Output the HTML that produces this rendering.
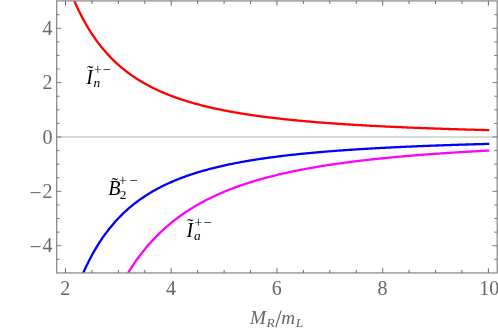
<!DOCTYPE html>
<html><head><meta charset="utf-8"><title>Plot</title>
<style>
html,body{margin:0;padding:0;background:#fff;}
body{width:498px;height:330px;overflow:hidden;font-family:"Liberation Serif",serif;}
svg{display:block;}
</style></head><body>
<svg width="498" height="330" viewBox="0 0 498 330" style="will-change:transform">
<rect x="0" y="0" width="498" height="330" fill="#fff"/>
<line x1="56.65" y1="137.0" x2="497.2" y2="137.0" stroke="#b4b4b4" stroke-width="1.1"/>
<clipPath id="c"><rect x="56.65" y="0.9" width="440.55" height="272.05"/></clipPath>
<g clip-path="url(#c)" fill="none" stroke-width="2.3" stroke-linejoin="round">
<path d="M65.50,-22.30 L66.56,-19.22 L67.62,-16.23 L68.69,-13.33 L69.75,-10.51 L70.81,-7.77 L71.87,-5.10 L72.93,-2.51 L74.00,0.01 L75.06,2.47 L76.12,4.85 L77.18,7.18 L78.25,9.44 L79.31,11.64 L80.37,13.79 L81.43,15.88 L82.49,17.92 L83.56,19.91 L84.62,21.84 L85.68,23.73 L86.74,25.57 L87.80,27.37 L88.87,29.12 L89.93,30.84 L90.99,32.51 L92.05,34.14 L93.11,35.73 L94.18,37.29 L95.24,38.81 L96.30,40.30 L97.36,41.75 L98.43,43.17 L99.49,44.55 L100.55,45.91 L101.61,47.24 L102.67,48.54 L103.74,49.81 L104.80,51.05 L105.86,52.26 L106.92,53.45 L107.98,54.62 L109.05,55.76 L110.11,56.88 L111.17,57.97 L112.23,59.04 L113.29,60.09 L114.36,61.12 L115.42,62.13 L116.48,63.11 L117.54,64.08 L118.61,65.03 L119.67,65.96 L120.73,66.87 L121.79,67.77 L122.85,68.65 L123.92,69.51 L124.98,70.35 L126.04,71.18 L127.10,71.99 L128.16,72.79 L129.23,73.57 L130.29,74.34 L131.35,75.10 L132.41,75.84 L133.47,76.57 L134.54,77.28 L135.60,77.98 L136.66,78.67 L137.72,79.35 L138.79,80.02 L139.85,80.67 L140.91,81.32 L141.97,81.95 L143.03,82.57 L144.10,83.18 L145.16,83.78 L146.22,84.37 L147.28,84.95 L148.34,85.52 L149.41,86.08 L150.47,86.63 L151.53,87.18 L152.59,87.71 L153.65,88.24 L154.72,88.76 L155.78,89.26 L156.84,89.77 L157.90,90.26 L158.96,90.74 L160.03,91.22 L161.09,91.69 L162.15,92.15 L163.21,92.61 L164.28,93.06 L165.34,93.50 L166.40,93.94 L167.46,94.37 L168.52,94.79 L169.59,95.20 L170.65,95.61 L171.71,96.02 L172.77,96.42 L173.83,96.81 L174.90,97.20 L175.96,97.58 L177.02,97.95 L178.08,98.32 L179.14,98.69 L180.21,99.05 L181.27,99.40 L182.33,99.75 L183.39,100.09 L184.46,100.43 L185.52,100.77 L186.58,101.10 L187.64,101.43 L188.70,101.75 L189.77,102.06 L190.83,102.38 L191.89,102.69 L192.95,102.99 L194.01,103.29 L195.08,103.59 L196.14,103.88 L197.20,104.17 L198.26,104.45 L199.32,104.73 L200.39,105.01 L201.45,105.29 L202.51,105.56 L203.57,105.82 L204.64,106.09 L205.70,106.35 L206.76,106.60 L207.82,106.86 L208.88,107.11 L209.95,107.35 L211.01,107.60 L212.07,107.84 L213.13,108.08 L214.19,108.31 L215.26,108.55 L216.32,108.78 L217.38,109.00 L218.44,109.23 L219.50,109.45 L220.57,109.67 L221.63,109.88 L222.69,110.10 L223.75,110.31 L224.82,110.51 L225.88,110.72 L226.94,110.92 L228.00,111.13 L229.06,111.32 L230.13,111.52 L231.19,111.71 L232.25,111.91 L233.31,112.10 L234.37,112.28 L235.44,112.47 L236.50,112.65 L237.56,112.84 L238.62,113.01 L239.68,113.19 L240.75,113.37 L241.81,113.54 L242.87,113.71 L243.93,113.88 L245.00,114.05 L246.06,114.22 L247.12,114.38 L248.18,114.54 L249.24,114.70 L250.31,114.86 L251.37,115.02 L252.43,115.17 L253.49,115.33 L254.55,115.48 L255.62,115.63 L256.68,115.78 L257.74,115.93 L258.80,116.07 L259.86,116.22 L260.93,116.36 L261.99,116.50 L263.05,116.64 L264.11,116.78 L265.18,116.92 L266.24,117.05 L267.30,117.19 L268.36,117.32 L269.42,117.45 L270.49,117.58 L271.55,117.71 L272.61,117.84 L273.67,117.96 L274.73,118.09 L275.80,118.21 L276.86,118.34 L277.92,118.46 L278.98,118.58 L280.04,118.70 L281.11,118.81 L282.17,118.93 L283.23,119.05 L284.29,119.16 L285.36,119.28 L286.42,119.39 L287.48,119.50 L288.54,119.61 L289.60,119.72 L290.67,119.83 L291.73,119.93 L292.79,120.04 L293.85,120.14 L294.91,120.25 L295.98,120.35 L297.04,120.45 L298.10,120.56 L299.16,120.66 L300.22,120.75 L301.29,120.85 L302.35,120.95 L303.41,121.05 L304.47,121.14 L305.54,121.24 L306.60,121.33 L307.66,121.43 L308.72,121.52 L309.78,121.61 L310.85,121.70 L311.91,121.79 L312.97,121.88 L314.03,121.97 L315.09,122.06 L316.16,122.14 L317.22,122.23 L318.28,122.31 L319.34,122.40 L320.40,122.48 L321.47,122.57 L322.53,122.65 L323.59,122.73 L324.65,122.81 L325.71,122.89 L326.78,122.97 L327.84,123.05 L328.90,123.13 L329.96,123.21 L331.03,123.28 L332.09,123.36 L333.15,123.43 L334.21,123.51 L335.27,123.58 L336.34,123.66 L337.40,123.73 L338.46,123.80 L339.52,123.87 L340.58,123.95 L341.65,124.02 L342.71,124.09 L343.77,124.16 L344.83,124.23 L345.89,124.29 L346.96,124.36 L348.02,124.43 L349.08,124.50 L350.14,124.56 L351.21,124.63 L352.27,124.69 L353.33,124.76 L354.39,124.82 L355.45,124.89 L356.52,124.95 L357.58,125.01 L358.64,125.07 L359.70,125.14 L360.76,125.20 L361.83,125.26 L362.89,125.32 L363.95,125.38 L365.01,125.44 L366.07,125.50 L367.14,125.56 L368.20,125.61 L369.26,125.67 L370.32,125.73 L371.39,125.79 L372.45,125.84 L373.51,125.90 L374.57,125.95 L375.63,126.01 L376.70,126.06 L377.76,126.12 L378.82,126.17 L379.88,126.22 L380.94,126.28 L382.01,126.33 L383.07,126.38 L384.13,126.43 L385.19,126.48 L386.25,126.54 L387.32,126.59 L388.38,126.64 L389.44,126.69 L390.50,126.74 L391.57,126.79 L392.63,126.83 L393.69,126.88 L394.75,126.93 L395.81,126.98 L396.88,127.03 L397.94,127.07 L399.00,127.12 L400.06,127.17 L401.12,127.21 L402.19,127.26 L403.25,127.30 L404.31,127.35 L405.37,127.39 L406.43,127.44 L407.50,127.48 L408.56,127.53 L409.62,127.57 L410.68,127.61 L411.75,127.66 L412.81,127.70 L413.87,127.74 L414.93,127.78 L415.99,127.83 L417.06,127.87 L418.12,127.91 L419.18,127.95 L420.24,127.99 L421.30,128.03 L422.37,128.07 L423.43,128.11 L424.49,128.15 L425.55,128.19 L426.61,128.23 L427.68,128.27 L428.74,128.31 L429.80,128.34 L430.86,128.38 L431.93,128.42 L432.99,128.46 L434.05,128.50 L435.11,128.53 L436.17,128.57 L437.24,128.61 L438.30,128.64 L439.36,128.68 L440.42,128.71 L441.48,128.75 L442.55,128.79 L443.61,128.82 L444.67,128.86 L445.73,128.89 L446.79,128.92 L447.86,128.96 L448.92,128.99 L449.98,129.03 L451.04,129.06 L452.11,129.09 L453.17,129.13 L454.23,129.16 L455.29,129.19 L456.35,129.23 L457.42,129.26 L458.48,129.29 L459.54,129.32 L460.60,129.35 L461.66,129.39 L462.73,129.42 L463.79,129.45 L464.85,129.48 L465.91,129.51 L466.97,129.54 L468.04,129.57 L469.10,129.60 L470.16,129.63 L471.22,129.66 L472.28,129.69 L473.35,129.72 L474.41,129.75 L475.47,129.78 L476.53,129.81 L477.60,129.84 L478.66,129.86 L479.72,129.89 L480.78,129.92 L481.84,129.95 L482.91,129.98 L483.97,130.00 L485.03,130.03 L486.09,130.06 L487.15,130.09 L488.22,130.11 L489.28,130.14" stroke="#ff0000"/>
<path d="M65.50,323.80 L66.56,320.01 L67.62,316.33 L68.69,312.76 L69.75,309.30 L70.81,305.94 L71.87,302.67 L72.93,299.50 L74.00,296.41 L75.06,293.41 L76.12,290.50 L77.18,287.66 L78.25,284.91 L79.31,282.22 L80.37,279.61 L81.43,277.07 L82.49,274.60 L83.56,272.18 L84.62,269.84 L85.68,267.55 L86.74,265.32 L87.80,263.14 L88.87,261.02 L89.93,258.96 L90.99,256.94 L92.05,254.97 L93.11,253.06 L94.18,251.18 L95.24,249.35 L96.30,247.57 L97.36,245.82 L98.43,244.12 L99.49,242.46 L100.55,240.83 L101.61,239.24 L102.67,237.69 L103.74,236.17 L104.80,234.69 L105.86,233.24 L106.92,231.82 L107.98,230.43 L109.05,229.07 L110.11,227.74 L111.17,226.44 L112.23,225.17 L113.29,223.92 L114.36,222.70 L115.42,221.51 L116.48,220.34 L117.54,219.19 L118.61,218.07 L119.67,216.97 L120.73,215.89 L121.79,214.83 L122.85,213.79 L123.92,212.78 L124.98,211.78 L126.04,210.81 L127.10,209.85 L128.16,208.91 L129.23,207.99 L130.29,207.08 L131.35,206.20 L132.41,205.33 L133.47,204.47 L134.54,203.63 L135.60,202.81 L136.66,202.00 L137.72,201.21 L138.79,200.43 L139.85,199.67 L140.91,198.91 L141.97,198.18 L143.03,197.45 L144.10,196.74 L145.16,196.04 L146.22,195.35 L147.28,194.68 L148.34,194.01 L149.41,193.36 L150.47,192.72 L151.53,192.08 L152.59,191.46 L153.65,190.85 L154.72,190.25 L155.78,189.66 L156.84,189.08 L157.90,188.51 L158.96,187.95 L160.03,187.40 L161.09,186.85 L162.15,186.32 L163.21,185.79 L164.28,185.27 L165.34,184.76 L166.40,184.26 L167.46,183.77 L168.52,183.28 L169.59,182.80 L170.65,182.33 L171.71,181.86 L172.77,181.41 L173.83,180.96 L174.90,180.51 L175.96,180.07 L177.02,179.64 L178.08,179.22 L179.14,178.80 L180.21,178.39 L181.27,177.98 L182.33,177.58 L183.39,177.19 L184.46,176.80 L185.52,176.42 L186.58,176.04 L187.64,175.67 L188.70,175.30 L189.77,174.94 L190.83,174.58 L191.89,174.23 L192.95,173.88 L194.01,173.54 L195.08,173.20 L196.14,172.87 L197.20,172.54 L198.26,172.22 L199.32,171.90 L200.39,171.58 L201.45,171.27 L202.51,170.96 L203.57,170.66 L204.64,170.36 L205.70,170.07 L206.76,169.78 L207.82,169.49 L208.88,169.21 L209.95,168.93 L211.01,168.65 L212.07,168.38 L213.13,168.11 L214.19,167.84 L215.26,167.58 L216.32,167.32 L217.38,167.07 L218.44,166.81 L219.50,166.56 L220.57,166.32 L221.63,166.07 L222.69,165.83 L223.75,165.60 L224.82,165.36 L225.88,165.13 L226.94,164.90 L228.00,164.67 L229.06,164.45 L230.13,164.23 L231.19,164.01 L232.25,163.80 L233.31,163.58 L234.37,163.37 L235.44,163.17 L236.50,162.96 L237.56,162.76 L238.62,162.56 L239.68,162.36 L240.75,162.16 L241.81,161.97 L242.87,161.78 L243.93,161.59 L245.00,161.40 L246.06,161.21 L247.12,161.03 L248.18,160.85 L249.24,160.67 L250.31,160.49 L251.37,160.32 L252.43,160.14 L253.49,159.97 L254.55,159.80 L255.62,159.64 L256.68,159.47 L257.74,159.31 L258.80,159.14 L259.86,158.98 L260.93,158.82 L261.99,158.67 L263.05,158.51 L264.11,158.36 L265.18,158.21 L266.24,158.06 L267.30,157.91 L268.36,157.76 L269.42,157.61 L270.49,157.47 L271.55,157.33 L272.61,157.19 L273.67,157.05 L274.73,156.91 L275.80,156.77 L276.86,156.63 L277.92,156.50 L278.98,156.37 L280.04,156.24 L281.11,156.11 L282.17,155.98 L283.23,155.85 L284.29,155.72 L285.36,155.60 L286.42,155.47 L287.48,155.35 L288.54,155.23 L289.60,155.11 L290.67,154.99 L291.73,154.87 L292.79,154.76 L293.85,154.64 L294.91,154.53 L295.98,154.41 L297.04,154.30 L298.10,154.19 L299.16,154.08 L300.22,153.97 L301.29,153.86 L302.35,153.76 L303.41,153.65 L304.47,153.54 L305.54,153.44 L306.60,153.34 L307.66,153.24 L308.72,153.13 L309.78,153.03 L310.85,152.93 L311.91,152.84 L312.97,152.74 L314.03,152.64 L315.09,152.55 L316.16,152.45 L317.22,152.36 L318.28,152.26 L319.34,152.17 L320.40,152.08 L321.47,151.99 L322.53,151.90 L323.59,151.81 L324.65,151.72 L325.71,151.63 L326.78,151.55 L327.84,151.46 L328.90,151.38 L329.96,151.29 L331.03,151.21 L332.09,151.13 L333.15,151.04 L334.21,150.96 L335.27,150.88 L336.34,150.80 L337.40,150.72 L338.46,150.64 L339.52,150.56 L340.58,150.49 L341.65,150.41 L342.71,150.33 L343.77,150.26 L344.83,150.18 L345.89,150.11 L346.96,150.04 L348.02,149.96 L349.08,149.89 L350.14,149.82 L351.21,149.75 L352.27,149.68 L353.33,149.61 L354.39,149.54 L355.45,149.47 L356.52,149.40 L357.58,149.33 L358.64,149.26 L359.70,149.20 L360.76,149.13 L361.83,149.07 L362.89,149.00 L363.95,148.94 L365.01,148.87 L366.07,148.81 L367.14,148.75 L368.20,148.68 L369.26,148.62 L370.32,148.56 L371.39,148.50 L372.45,148.44 L373.51,148.38 L374.57,148.32 L375.63,148.26 L376.70,148.20 L377.76,148.14 L378.82,148.08 L379.88,148.03 L380.94,147.97 L382.01,147.91 L383.07,147.86 L384.13,147.80 L385.19,147.75 L386.25,147.69 L387.32,147.64 L388.38,147.58 L389.44,147.53 L390.50,147.48 L391.57,147.42 L392.63,147.37 L393.69,147.32 L394.75,147.27 L395.81,147.22 L396.88,147.16 L397.94,147.11 L399.00,147.06 L400.06,147.01 L401.12,146.97 L402.19,146.92 L403.25,146.87 L404.31,146.82 L405.37,146.77 L406.43,146.72 L407.50,146.68 L408.56,146.63 L409.62,146.58 L410.68,146.54 L411.75,146.49 L412.81,146.45 L413.87,146.40 L414.93,146.36 L415.99,146.31 L417.06,146.27 L418.12,146.22 L419.18,146.18 L420.24,146.14 L421.30,146.09 L422.37,146.05 L423.43,146.01 L424.49,145.96 L425.55,145.92 L426.61,145.88 L427.68,145.84 L428.74,145.80 L429.80,145.76 L430.86,145.72 L431.93,145.68 L432.99,145.64 L434.05,145.60 L435.11,145.56 L436.17,145.52 L437.24,145.48 L438.30,145.44 L439.36,145.40 L440.42,145.37 L441.48,145.33 L442.55,145.29 L443.61,145.25 L444.67,145.22 L445.73,145.18 L446.79,145.14 L447.86,145.11 L448.92,145.07 L449.98,145.03 L451.04,145.00 L452.11,144.96 L453.17,144.93 L454.23,144.89 L455.29,144.86 L456.35,144.82 L457.42,144.79 L458.48,144.76 L459.54,144.72 L460.60,144.69 L461.66,144.66 L462.73,144.62 L463.79,144.59 L464.85,144.56 L465.91,144.52 L466.97,144.49 L468.04,144.46 L469.10,144.43 L470.16,144.40 L471.22,144.37 L472.28,144.33 L473.35,144.30 L474.41,144.27 L475.47,144.24 L476.53,144.21 L477.60,144.18 L478.66,144.15 L479.72,144.12 L480.78,144.09 L481.84,144.06 L482.91,144.03 L483.97,144.00 L485.03,143.97 L486.09,143.94 L487.15,143.92 L488.22,143.89 L489.28,143.86" stroke="#0000ff"/>
<path d="M65.50,483.26 L66.56,476.36 L67.62,469.67 L68.69,463.18 L69.75,456.87 L70.81,450.75 L71.87,444.79 L72.93,439.01 L74.00,433.38 L75.06,427.92 L76.12,422.60 L77.18,417.42 L78.25,412.39 L79.31,407.49 L80.37,402.72 L81.43,398.07 L82.49,393.54 L83.56,389.13 L84.62,384.84 L85.68,380.65 L86.74,376.56 L87.80,372.58 L88.87,368.70 L89.93,364.91 L90.99,361.21 L92.05,357.61 L93.11,354.09 L94.18,350.65 L95.24,347.29 L96.30,344.01 L97.36,340.81 L98.43,337.68 L99.49,334.62 L100.55,331.63 L101.61,328.71 L102.67,325.86 L103.74,323.06 L104.80,320.33 L105.86,317.66 L106.92,315.05 L107.98,312.49 L109.05,309.99 L110.11,307.54 L111.17,305.14 L112.23,302.79 L113.29,300.49 L114.36,298.24 L115.42,296.03 L116.48,293.87 L117.54,291.75 L118.61,289.68 L119.67,287.64 L120.73,285.65 L121.79,283.70 L122.85,281.78 L123.92,279.90 L124.98,278.06 L126.04,276.25 L127.10,274.48 L128.16,272.74 L129.23,271.03 L130.29,269.36 L131.35,267.72 L132.41,266.10 L133.47,264.52 L134.54,262.97 L135.60,261.44 L136.66,259.94 L137.72,258.47 L138.79,257.02 L139.85,255.60 L140.91,254.21 L141.97,252.84 L143.03,251.49 L144.10,250.17 L145.16,248.87 L146.22,247.59 L147.28,246.33 L148.34,245.10 L149.41,243.88 L150.47,242.69 L151.53,241.51 L152.59,240.36 L153.65,239.22 L154.72,238.10 L155.78,237.00 L156.84,235.92 L157.90,234.86 L158.96,233.81 L160.03,232.78 L161.09,231.77 L162.15,230.77 L163.21,229.79 L164.28,228.82 L165.34,227.87 L166.40,226.93 L167.46,226.01 L168.52,225.10 L169.59,224.20 L170.65,223.32 L171.71,222.45 L172.77,221.60 L173.83,220.76 L174.90,219.93 L175.96,219.11 L177.02,218.30 L178.08,217.51 L179.14,216.73 L180.21,215.96 L181.27,215.20 L182.33,214.45 L183.39,213.71 L184.46,212.98 L185.52,212.26 L186.58,211.56 L187.64,210.86 L188.70,210.17 L189.77,209.49 L190.83,208.82 L191.89,208.16 L192.95,207.51 L194.01,206.87 L195.08,206.24 L196.14,205.61 L197.20,205.00 L198.26,204.39 L199.32,203.79 L200.39,203.20 L201.45,202.61 L202.51,202.04 L203.57,201.47 L204.64,200.91 L205.70,200.35 L206.76,199.81 L207.82,199.27 L208.88,198.73 L209.95,198.21 L211.01,197.69 L212.07,197.18 L213.13,196.67 L214.19,196.17 L215.26,195.68 L216.32,195.19 L217.38,194.71 L218.44,194.23 L219.50,193.76 L220.57,193.30 L221.63,192.84 L222.69,192.38 L223.75,191.94 L224.82,191.50 L225.88,191.06 L226.94,190.63 L228.00,190.20 L229.06,189.78 L230.13,189.36 L231.19,188.95 L232.25,188.54 L233.31,188.14 L234.37,187.75 L235.44,187.35 L236.50,186.97 L237.56,186.58 L238.62,186.20 L239.68,185.83 L240.75,185.46 L241.81,185.09 L242.87,184.73 L243.93,184.37 L245.00,184.02 L246.06,183.67 L247.12,183.32 L248.18,182.98 L249.24,182.64 L250.31,182.30 L251.37,181.97 L252.43,181.64 L253.49,181.32 L254.55,181.00 L255.62,180.68 L256.68,180.37 L257.74,180.06 L258.80,179.75 L259.86,179.45 L260.93,179.15 L261.99,178.85 L263.05,178.55 L264.11,178.26 L265.18,177.97 L266.24,177.69 L267.30,177.41 L268.36,177.13 L269.42,176.85 L270.49,176.58 L271.55,176.31 L272.61,176.04 L273.67,175.77 L274.73,175.51 L275.80,175.25 L276.86,174.99 L277.92,174.74 L278.98,174.49 L280.04,174.24 L281.11,173.99 L282.17,173.74 L283.23,173.50 L284.29,173.26 L285.36,173.02 L286.42,172.79 L287.48,172.56 L288.54,172.33 L289.60,172.10 L290.67,171.87 L291.73,171.65 L292.79,171.42 L293.85,171.20 L294.91,170.99 L295.98,170.77 L297.04,170.56 L298.10,170.35 L299.16,170.14 L300.22,169.93 L301.29,169.72 L302.35,169.52 L303.41,169.32 L304.47,169.12 L305.54,168.92 L306.60,168.72 L307.66,168.53 L308.72,168.34 L309.78,168.14 L310.85,167.96 L311.91,167.77 L312.97,167.58 L314.03,167.40 L315.09,167.22 L316.16,167.03 L317.22,166.86 L318.28,166.68 L319.34,166.50 L320.40,166.33 L321.47,166.15 L322.53,165.98 L323.59,165.81 L324.65,165.64 L325.71,165.48 L326.78,165.31 L327.84,165.15 L328.90,164.98 L329.96,164.82 L331.03,164.66 L332.09,164.50 L333.15,164.35 L334.21,164.19 L335.27,164.04 L336.34,163.88 L337.40,163.73 L338.46,163.58 L339.52,163.43 L340.58,163.28 L341.65,163.14 L342.71,162.99 L343.77,162.85 L344.83,162.70 L345.89,162.56 L346.96,162.42 L348.02,162.28 L349.08,162.14 L350.14,162.00 L351.21,161.87 L352.27,161.73 L353.33,161.60 L354.39,161.47 L355.45,161.33 L356.52,161.20 L357.58,161.07 L358.64,160.94 L359.70,160.82 L360.76,160.69 L361.83,160.56 L362.89,160.44 L363.95,160.32 L365.01,160.19 L366.07,160.07 L367.14,159.95 L368.20,159.83 L369.26,159.71 L370.32,159.59 L371.39,159.48 L372.45,159.36 L373.51,159.24 L374.57,159.13 L375.63,159.02 L376.70,158.90 L377.76,158.79 L378.82,158.68 L379.88,158.57 L380.94,158.46 L382.01,158.35 L383.07,158.25 L384.13,158.14 L385.19,158.03 L386.25,157.93 L387.32,157.82 L388.38,157.72 L389.44,157.62 L390.50,157.51 L391.57,157.41 L392.63,157.31 L393.69,157.21 L394.75,157.11 L395.81,157.01 L396.88,156.92 L397.94,156.82 L399.00,156.72 L400.06,156.63 L401.12,156.53 L402.19,156.44 L403.25,156.35 L404.31,156.25 L405.37,156.16 L406.43,156.07 L407.50,155.98 L408.56,155.89 L409.62,155.80 L410.68,155.71 L411.75,155.62 L412.81,155.53 L413.87,155.45 L414.93,155.36 L415.99,155.27 L417.06,155.19 L418.12,155.10 L419.18,155.02 L420.24,154.94 L421.30,154.85 L422.37,154.77 L423.43,154.69 L424.49,154.61 L425.55,154.53 L426.61,154.45 L427.68,154.37 L428.74,154.29 L429.80,154.21 L430.86,154.13 L431.93,154.05 L432.99,153.98 L434.05,153.90 L435.11,153.82 L436.17,153.75 L437.24,153.67 L438.30,153.60 L439.36,153.53 L440.42,153.45 L441.48,153.38 L442.55,153.31 L443.61,153.24 L444.67,153.16 L445.73,153.09 L446.79,153.02 L447.86,152.95 L448.92,152.88 L449.98,152.81 L451.04,152.75 L452.11,152.68 L453.17,152.61 L454.23,152.54 L455.29,152.47 L456.35,152.41 L457.42,152.34 L458.48,152.28 L459.54,152.21 L460.60,152.15 L461.66,152.08 L462.73,152.02 L463.79,151.95 L464.85,151.89 L465.91,151.83 L466.97,151.77 L468.04,151.70 L469.10,151.64 L470.16,151.58 L471.22,151.52 L472.28,151.46 L473.35,151.40 L474.41,151.34 L475.47,151.28 L476.53,151.22 L477.60,151.16 L478.66,151.10 L479.72,151.05 L480.78,150.99 L481.84,150.93 L482.91,150.88 L483.97,150.82 L485.03,150.76 L486.09,150.71 L487.15,150.65 L488.22,150.60 L489.28,150.54" stroke="#ff00ff"/>
</g>
<rect x="56.65" y="0.9" width="440.55" height="272.05" fill="none" stroke="#8e8e8e" stroke-width="1.3"/>
<path d="M65.50,272.95v-4.7 M65.50,0.9v4.7 M91.93,272.95v-3.0 M91.93,0.9v3.0 M118.36,272.95v-3.0 M118.36,0.9v3.0 M144.79,272.95v-3.0 M144.79,0.9v3.0 M171.22,272.95v-4.7 M171.22,0.9v4.7 M197.65,272.95v-3.0 M197.65,0.9v3.0 M224.08,272.95v-3.0 M224.08,0.9v3.0 M250.51,272.95v-3.0 M250.51,0.9v3.0 M276.94,272.95v-4.7 M276.94,0.9v4.7 M303.37,272.95v-3.0 M303.37,0.9v3.0 M329.80,272.95v-3.0 M329.80,0.9v3.0 M356.23,272.95v-3.0 M356.23,0.9v3.0 M382.66,272.95v-4.7 M382.66,0.9v4.7 M409.09,272.95v-3.0 M409.09,0.9v3.0 M435.52,272.95v-3.0 M435.52,0.9v3.0 M461.95,272.95v-3.0 M461.95,0.9v3.0 M488.38,272.95v-4.7 M488.38,0.9v4.7" stroke="#666" stroke-width="1" fill="none"/>
<path d="M56.65,259.31h3.0 M497.2,259.31h-3.0 M56.65,245.72h4.7 M497.2,245.72h-4.7 M56.65,232.13h3.0 M497.2,232.13h-3.0 M56.65,218.54h3.0 M497.2,218.54h-3.0 M56.65,204.95h3.0 M497.2,204.95h-3.0 M56.65,191.36h4.7 M497.2,191.36h-4.7 M56.65,177.77h3.0 M497.2,177.77h-3.0 M56.65,164.18h3.0 M497.2,164.18h-3.0 M56.65,150.59h3.0 M497.2,150.59h-3.0 M56.65,137.00h4.7 M497.2,137.00h-4.7 M56.65,123.41h3.0 M497.2,123.41h-3.0 M56.65,109.82h3.0 M497.2,109.82h-3.0 M56.65,96.23h3.0 M497.2,96.23h-3.0 M56.65,82.64h4.7 M497.2,82.64h-4.7 M56.65,69.05h3.0 M497.2,69.05h-3.0 M56.65,55.46h3.0 M497.2,55.46h-3.0 M56.65,41.87h3.0 M497.2,41.87h-3.0 M56.65,28.28h4.7 M497.2,28.28h-4.7 M56.65,14.69h3.0 M497.2,14.69h-3.0" stroke="#666" stroke-width="0.85" fill="none"/>
<g font-family="Liberation Serif, serif" font-size="20" fill="#666">
<text x="65.30" y="294.8" text-anchor="middle">2</text>
<text x="171.02" y="294.8" text-anchor="middle">4</text>
<text x="276.74" y="294.8" text-anchor="middle">6</text>
<text x="382.46" y="294.8" text-anchor="middle">8</text>
<text x="489.18" y="294.8" text-anchor="middle">10</text>
<text x="52.6" y="34.88" text-anchor="end">4</text>
<text x="52.6" y="89.24" text-anchor="end">2</text>
<text x="52.6" y="143.60" text-anchor="end">0</text>
<text x="52.6" y="197.96" text-anchor="end">2</text>
<text x="29.4" y="199.66" font-size="21.5">−</text>
<text x="52.6" y="252.32" text-anchor="end">4</text>
<text x="29.4" y="254.02" font-size="21.5">−</text>
</g>
<g font-family="Liberation Serif, serif" font-style="italic" fill="#666">
<text x="249.9" y="323.9" font-size="19.2">M</text>
<text x="266.4" y="326.9" font-size="13.4">R</text>
<text x="281.3" y="323.9" font-size="19.2">m</text>
<text x="295.7" y="326.9" font-size="13.4">L</text>
</g>
<path d="M275.7,327.2 L281.1,310.6" stroke="#666" stroke-width="1.15" fill="none"/>
<g font-family="Liberation Serif, serif" fill="#000" font-style="italic">
<text x="86.3" y="83.9" font-size="20">I</text>
<text x="93.5" y="87.1" font-size="13.4">n</text>
<text x="90.3" y="79.70" font-size="20" font-style="normal" text-anchor="middle">˜</text>
<text x="93.83" y="74.08" font-size="14.4" font-style="normal">+</text>
<text x="102.38" y="74.08" font-size="14.4" font-style="normal">−</text>
</g>
<g font-family="Liberation Serif, serif" fill="#000" font-style="italic">
<text x="108.3" y="194.6" font-size="20">B</text>
<text x="119.8" y="199.4" font-size="13.4" font-style="normal">2</text>
<text x="114.8" y="191.90" font-size="20" font-style="normal" text-anchor="middle">˜</text>
<text x="118.83" y="185.48" font-size="14.4" font-style="normal">+</text>
<text x="129.38" y="185.48" font-size="14.4" font-style="normal">−</text>
</g>
<g font-family="Liberation Serif, serif" fill="#000" font-style="italic">
<text x="186.4" y="236.9" font-size="20">I</text>
<text x="194.0" y="240.3" font-size="13.4">a</text>
<text x="190.3" y="233.00" font-size="20" font-style="normal" text-anchor="middle">˜</text>
<text x="194.23" y="227.08" font-size="14.4" font-style="normal">+</text>
<text x="203.38" y="227.08" font-size="14.4" font-style="normal">−</text>
</g>
</svg>
</body></html>
